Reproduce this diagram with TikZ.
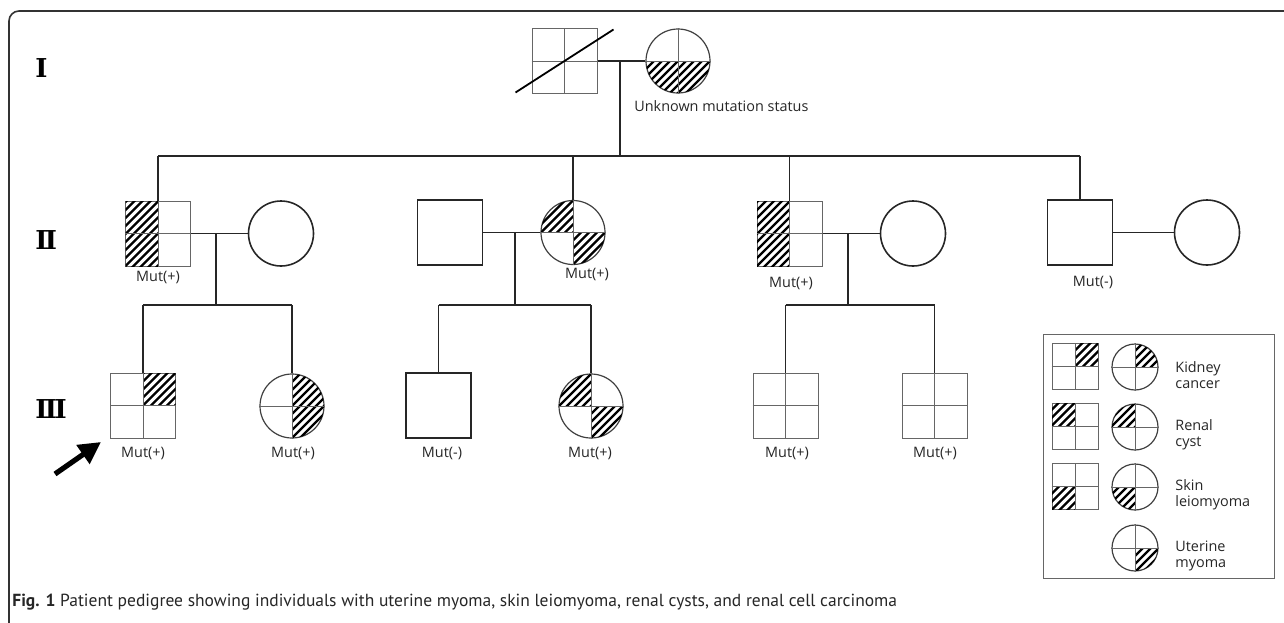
\documentclass[tikz,border=0pt]{standalone}
\usepackage{fontspec}
\setmainfont{Open Sans}
\newfontfamily\capfont{PT Sans}
\newfontfamily\romfont{DejaVu Serif}
\usetikzlibrary{calc,arrows.meta}
\newcommand\hq[4]{% node, sx, sy, half size : hatch square quadrant
  \begin{scope}
    \clip (#1.center) rectangle ($(#1.center)+({#2*#4},{#3*#4})$);
    \foreach \t in {-11,...,11}{\draw[hatchln] ($(#1.center)+({\t*8-40},40)$) -- ++(80,-80);}
  \end{scope}}
\newcommand\cq[4]{% node, sx, sy, radius : hatch circle quadrant
  \begin{scope}
    \clip (#1.center) circle[radius=#4];
    \clip (#1.center) rectangle ($(#1.center)+({#2*#4},{#3*#4})$);
    \foreach \t in {-11,...,11}{\draw[hatchln] ($(#1.center)+({\t*8-40},40)$) -- ++(80,-80);}
  \end{scope}}
\newcommand\crossin[1]{\draw[thinln] (#1.north) -- (#1.south) (#1.west) -- (#1.east);}
\begin{document}
\begin{tikzpicture}[x=0.5pt,y=-0.5pt,
  gsq/.style={draw=black!60, line width=0.5pt, rectangle, minimum size=32.5pt, inner sep=0pt},
  psq/.style={draw=black!85, line width=0.8pt, rectangle, minimum size=32.5pt, inner sep=0pt},
  gci/.style={draw=black!75, line width=0.6pt, circle, minimum size=32pt, inner sep=0pt},
  pci/.style={draw=black!85, line width=0.8pt, circle, minimum size=32.5pt, inner sep=0pt},
  lsq/.style={draw=black!60, line width=0.5pt, rectangle, minimum size=23pt, inner sep=0pt},
  lci/.style={draw=black!75, line width=0.6pt, circle, minimum size=23pt, inner sep=0pt},
  thinln/.style={draw=black!60, line width=0.5pt},
  hatchln/.style={line width=1.1pt, black},
  conn/.style={line width=0.8pt, black!85},
  lbl/.style={font=\fontsize{7.2}{8}\selectfont, text=black!85, inner sep=0pt},
  rom/.style={font=\romfont\bfseries\fontsize{13}{13}\selectfont, inner sep=0pt, anchor=west},
]
\useasboundingbox (0,0) rectangle (1284,622);
% frame
\draw[line width=0.8pt, black!80, rounded corners=5pt] (9,640) -- (9,11) -- (1300,11);
% generation labels
\node[rom] (gI) at (35,68) {I};
\node[rom] (gII) at (35,240) {I\kern-1.3pt I};
\node[rom] (gIII) at (35,409) {I\kern-1.3pt I\kern-1.3pt I};
% generation I
\node[gsq] (I1) at (564.5,61) {};
\node[gci] (I2) at (678,61) {};
\cq{I2}{-1}{1}{32}\cq{I2}{1}{1}{32}
\crossin{I1}\crossin{I2}
\draw[line width=0.9pt] ($(I1.center)+(-49,31.5)$) -- ($(I1.center)+(49,-31.5)$);
\node[lbl, anchor=west] (unk) at (634,106) {Unknown mutation status};
\draw[conn] (I1.east) -- (I2.west);
\coordinate (d1) at (620,61);
\coordinate (s1) at (620,156);
\draw[conn] (d1) -- (s1);
% generation II
\node[gsq] (II1) at (158,233.5) {};
\node[pci] (II1w) at (281,233.5) {};
\node[psq] (II2h) at (450,232.5) {};
\node[gci] (II2) at (573,232.5) {};
\node[gsq] (II3) at (789.5,233.5) {};
\node[pci] (II3w) at (913,233.5) {};
\node[psq] (II4) at (1080,232.5) {};
\node[pci] (II4w) at (1207,232.5) {};
\hq{II1}{-1}{-1}{32.5}\hq{II1}{-1}{1}{32.5}
\hq{II3}{-1}{-1}{32.5}\hq{II3}{-1}{1}{32.5}
\cq{II2}{-1}{-1}{32}\cq{II2}{1}{1}{32}
\crossin{II1}\crossin{II3}\crossin{II2}
\draw[conn] (II1.north |- s1) -- (II4.north |- s1);
\foreach \n in {II1,II2,II3,II4}{\draw[conn] (\n.north |- s1) -- (\n.north);}
\draw[conn] (II1.east) -- (II1w.west);
\draw[conn] (II2h.east) -- (II2.west);
\draw[conn] (II3.east) -- (II3w.west);
\draw[conn] (II4.east) -- (II4w.west);
\node[lbl] (m1) at (158,277) {Mut(+)};
\node[lbl] (m2) at (587,274) {Mut(+)};
\node[lbl] (m3) at (791,283) {Mut(+)};
\node[lbl] (m4) at (1093,282) {Mut(-)};
% generation III
\node[gsq] (III1) at (143,405.5) {};
\node[gci] (III2) at (292,406) {};
\node[psq] (III3) at (438.5,405.5) {};
\node[gci] (III4) at (591,406) {};
\node[gsq] (III5) at (785.5,405.5) {};
\node[gsq] (III6) at (934.5,405.5) {};
\hq{III1}{1}{-1}{32.5}
\cq{III2}{1}{-1}{32}\cq{III2}{1}{1}{32}
\cq{III4}{-1}{-1}{32}\cq{III4}{1}{1}{32}
\crossin{III1}\crossin{III2}\crossin{III4}\crossin{III5}\crossin{III6}
\coordinate (d2) at (216,233.5);
\coordinate (s2) at (216,305);
\coordinate (d3) at (515,232.5);
\coordinate (s3) at (515,305);
\coordinate (d4) at (848,233.5);
\coordinate (s4) at (848,305);
\draw[conn] (d2) -- (s2);
\draw[conn] (d3) -- (s3);
\draw[conn] (d4) -- (s4);
\draw[conn] (III1.north |- s2) -- (III2.north |- s2);
\draw[conn] (III3.north |- s3) -- (III4.north |- s3);
\draw[conn] (III5.north |- s4) -- (III6.north |- s4);
\foreach \n/\s in {III1/s2,III2/s2,III3/s3,III4/s3,III5/s4,III6/s4}{\draw[conn] (\n.north |- \s) -- (\n.north);}
\node[lbl] (m5) at (143,453) {Mut(+)};
\node[lbl] (m6) at (293,453) {Mut(+)};
\node[lbl] (m7) at (442,453) {Mut(-)};
\node[lbl] (m8) at (590,453) {Mut(+)};
\node[lbl] (m9) at (787,453) {Mut(+)};
\node[lbl] (m10) at (935,453) {Mut(+)};
% proband arrow
\coordinate (pa) at (55,474);
\coordinate (pb) at (101,442);
\draw[line width=2.6pt, -{Triangle[length=11pt,width=11pt]}] (pa) -- (pb);
% legend
\node[draw=black!60, line width=0.5pt, minimum width=115.5pt, minimum height=122pt, inner sep=0pt] (legend) at (1158.5,456) {};
\node[lsq] (ks) at (1075,366.5) {};
\node[lsq] (rs) at (1075,426.5) {};
\node[lsq] (ss) at (1075,486.5) {};
\node[lci] (kc) at (1135,367) {};
\node[lci] (rc) at (1135,427) {};
\node[lci] (sc) at (1135,487) {};
\node[lci] (uc) at (1135,548) {};
\hq{ks}{1}{-1}{23}\hq{rs}{-1}{-1}{23}\hq{ss}{-1}{1}{23}
\cq{kc}{1}{-1}{23}\cq{rc}{-1}{-1}{23}\cq{sc}{-1}{1}{23}\cq{uc}{1}{1}{23}
\crossin{ks}\crossin{rs}\crossin{ss}\crossin{kc}\crossin{rc}\crossin{sc}\crossin{uc}
\node[lbl, anchor=west, align=left] (tk) at (1175,375) {Kidney\\cancer};
\node[lbl, anchor=west, align=left] (tr) at (1175,435) {Renal\\cyst};
\node[lbl, anchor=west, align=left] (ts) at (1175,495) {Skin\\leiomyoma};
\node[lbl, anchor=west, align=left] (tu) at (1175,556) {Uterine\\myoma};
% caption
\node[anchor=west, inner sep=0pt, font=\capfont\fontsize{8.75}{10}\selectfont, text=black!85] (cap) at (12,602) {\textbf{Fig. 1} Patient pedigree showing individuals with uterine myoma, skin leiomyoma, renal cysts, and renal cell carcinoma};
\end{tikzpicture}
\end{document}
